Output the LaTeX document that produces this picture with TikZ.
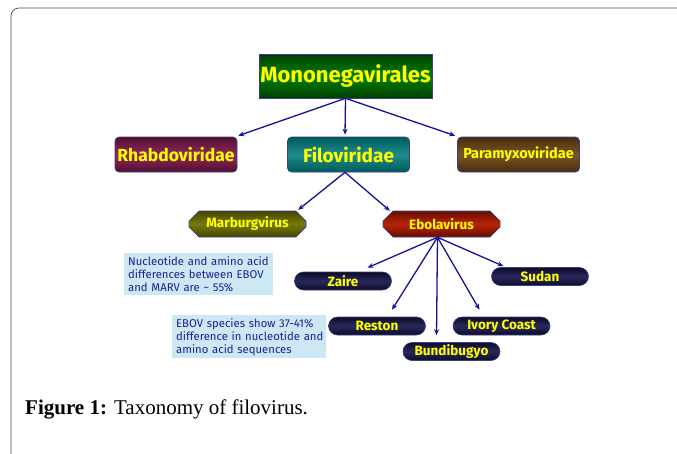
\documentclass[tikz,border=0pt]{standalone}
\usepackage{fontspec}
\setmainfont{Liberation Serif}
\newfontfamily\cs{Fira Sans}
\usetikzlibrary{shapes.misc,arrows.meta,calc}
\definecolor{arr}{RGB}{20,20,150}
\definecolor{ylw}{RGB}{255,255,0}
\definecolor{bord}{RGB}{60,60,140}
\definecolor{notefill}{RGB}{204,232,242}
\definecolor{notetext}{RGB}{30,30,150}
\definecolor{spedge}{RGB}{12,12,35}
\definecolor{spmid}{RGB}{40,40,95}
\tikzset{
  box/.style={draw=bord, line width=0.6pt, inner sep=0pt, text=ylw, font=\cs\bfseries},
  fam/.style={box, rounded corners=4pt, minimum width=122pt, minimum height=35pt},
  genus/.style={box, chamfered rectangle, chamfered rectangle xsep=5pt, chamfered rectangle ysep=5pt, minimum width=117pt, minimum height=26pt, font=\cs\bfseries\fontsize{13.5}{15}\selectfont},
  species/.style={box, rounded rectangle, minimum width=97pt, minimum height=18pt, top color=spedge, bottom color=spedge, middle color=spmid, font=\cs\bfseries\fontsize{13.5}{14}\selectfont},
  note/.style={fill=notefill, text=notetext, align=left, inner xsep=4pt, inner ysep=3pt, font=\cs\fontsize{11.3}{13}\selectfont, anchor=north west},
  link/.style={draw=arr, line width=1.3pt, -{Stealth[length=6pt,width=5pt]}},
}
\begin{document}
\begin{tikzpicture}[x=1pt,y=-1pt]
\useasboundingbox (0,0) rectangle (677,453);
\clip (0,0) rectangle (677,453);
\draw[black!70, line width=0.7pt, rounded corners=8pt] (11,470) -- (11,8) -- (700,8);

\node[box, minimum width=173pt, minimum height=44pt, top color=green!25!black, bottom color=green!25!black, middle color=green!50!black, font=\cs\bfseries\fontsize{22}{24}\selectfont] (mono) at (345.5,76) {Mononegavirales};

\node[fam, top color={rgb,255:red,80;green,15;blue,50}, bottom color={rgb,255:red,80;green,15;blue,50}, middle color={rgb,255:red,145;green,40;blue,90}, font=\cs\bfseries\fontsize{17.5}{20}\selectfont] (rh) at (176,154.5) {Rhabdoviridae};
\node[fam, top color=teal!70!black, bottom color=teal!70!black, middle color={rgb,255:red,30;green,140;blue,140}, font=\cs\bfseries\fontsize{19}{21}\selectfont] (fi) at (348.5,154.5) {Filoviridae};
\node[fam, top color={rgb,255:red,70;green,45;blue,15}, bottom color={rgb,255:red,70;green,45;blue,15}, middle color={rgb,255:red,125;green,85;blue,35}, font=\cs\bfseries\fontsize{14.5}{17}\selectfont] (pa) at (518.5,154.5) {Paramyxoviridae};

\node[genus, top color={rgb,255:red,70;green,70;blue,0}, bottom color={rgb,255:red,70;green,70;blue,0}, middle color={rgb,255:red,120;green,120;blue,10}] (ma) at (247.5,224) {Marburgvirus};
\node[genus, top color={rgb,255:red,100;green,15;blue,0}, bottom color={rgb,255:red,100;green,15;blue,0}, middle color={rgb,255:red,185;green,35;blue,5}] (eb) at (441.5,224) {Ebolavirus};

\node[note, text width=141pt, minimum height=42pt] (n1) at (124,253) {\mbox{Nucleotide and amino acid}\\\mbox{differences between EBOV}\\\mbox{and MARV are \textasciitilde{} 55\%}};
\node[note, text width=146pt, minimum height=42pt] (n2) at (172,315) {\mbox{EBOV species show 37-41\%}\\\mbox{difference in nucleotide and}\\\mbox{amino acid sequences}};

\node[species] (za) at (343,281) {Zaire};
\node[species] (su) at (540,276.5) {Sudan};
\node[species] (re) at (377,326) {Reston};
\node[species] (iv) at (501.5,326) {Ivory Coast};
\node[species] (bu) at (451.5,351.5) {Bundibugyo};

\draw[link] (mono.south) -- ($(rh.north east)+(1,-1)$);
\draw[link] (mono.south) -- ($(fi.north)+(-3.5,-2)$);
\draw[link] (mono.south) -- ($(pa.north west)+(-2,-1)$);
\draw[link] ($(fi.south)+(-3.5,0)$) -- ($(ma.north east)+(-3,-6)$);
\draw[link] ($(fi.south)+(-3.5,0)$) -- ($(eb.north west)+(2,-5)$);

\coordinate (eo) at ($(eb.south)+(-4,0)$);
\draw[link] (eo) -- ($(za.north east)+(-15,-4)$);
\draw[link] (eo) -- ($(su.north west)+(3,-1)$);
\draw[link] (eo) -- ($(re.north)+(15,-7)$);
\draw[link] (eo) -- ($(bu.north)+(-15,-7)$);
\draw[link] (eo) -- ($(iv.north)+(-22,-7)$);

\node[anchor=base west, font=\fontsize{21}{24}\selectfont, inner sep=0pt] (cap) at (25,414) {\textbf{Figure 1:} Taxonomy of filovirus.};
\end{tikzpicture}
\end{document}
